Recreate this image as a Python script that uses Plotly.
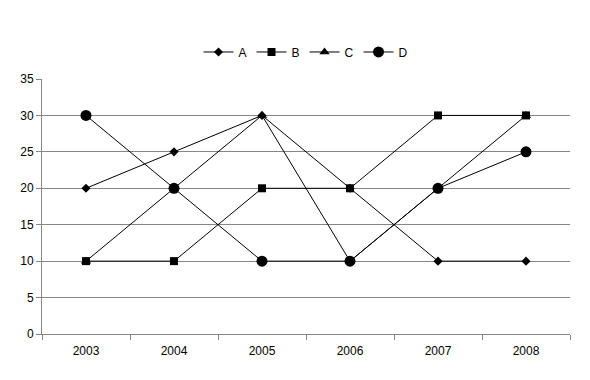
import plotly.graph_objects as go

years = ["2003", "2004", "2005", "2006", "2007", "2008"]
series_a = [20, 25, 30, 20, 10, 10]
series_b = [10, 10, 20, 20, 30, 30]
series_c = [10, 20, 30, 10, 20, 30]
series_d = [30, 20, 10, 10, 20, 25]
y_ticks = [0, 5, 10, 15, 20, 25, 30, 35]

fig = go.Figure()
specs = [
    ("A", series_a, "diamond", 7),
    ("B", series_b, "square", 8),
    ("C", series_c, "triangle-up", 9),
    ("D", series_d, "circle", 11),
]
for name, vals, sym, size in specs:
    fig.add_trace(go.Scatter(
        x=years, y=vals, name=name, mode="lines+markers",
        line=dict(color="black", width=1),
        marker=dict(symbol=sym, size=size, color="black"),
    ))

fig.update_layout(
    width=590, height=380,
    margin=dict(l=42, r=20, t=79, b=46),
    plot_bgcolor="white", paper_bgcolor="white",
    font=dict(family="Liberation Sans, Arial, sans-serif", size=12, color="black"),
    legend=dict(orientation="h", x=0.5, xanchor="center", y=1.106, yanchor="middle",
                font=dict(size=12), itemwidth=30, tracegroupgap=0),
    showlegend=True,
)
fig.update_xaxes(
    type="category", range=[-0.5, 5.5], showgrid=False,
    showline=True, linecolor="#868686", linewidth=1,
    ticks="outside", tickson="boundaries", ticklen=5, tickcolor="#868686",
    ticklabelstandoff=6, tickfont=dict(size=12),
)
fig.update_yaxes(
    range=[0, 35], tickvals=y_ticks, showgrid=True, gridcolor="#868686", gridwidth=1,
    showline=True, linecolor="#868686", linewidth=1,
    ticks="outside", ticklen=5, tickcolor="#868686", zeroline=False,
    tickfont=dict(size=12),
)
fig.write_html("out.html")
